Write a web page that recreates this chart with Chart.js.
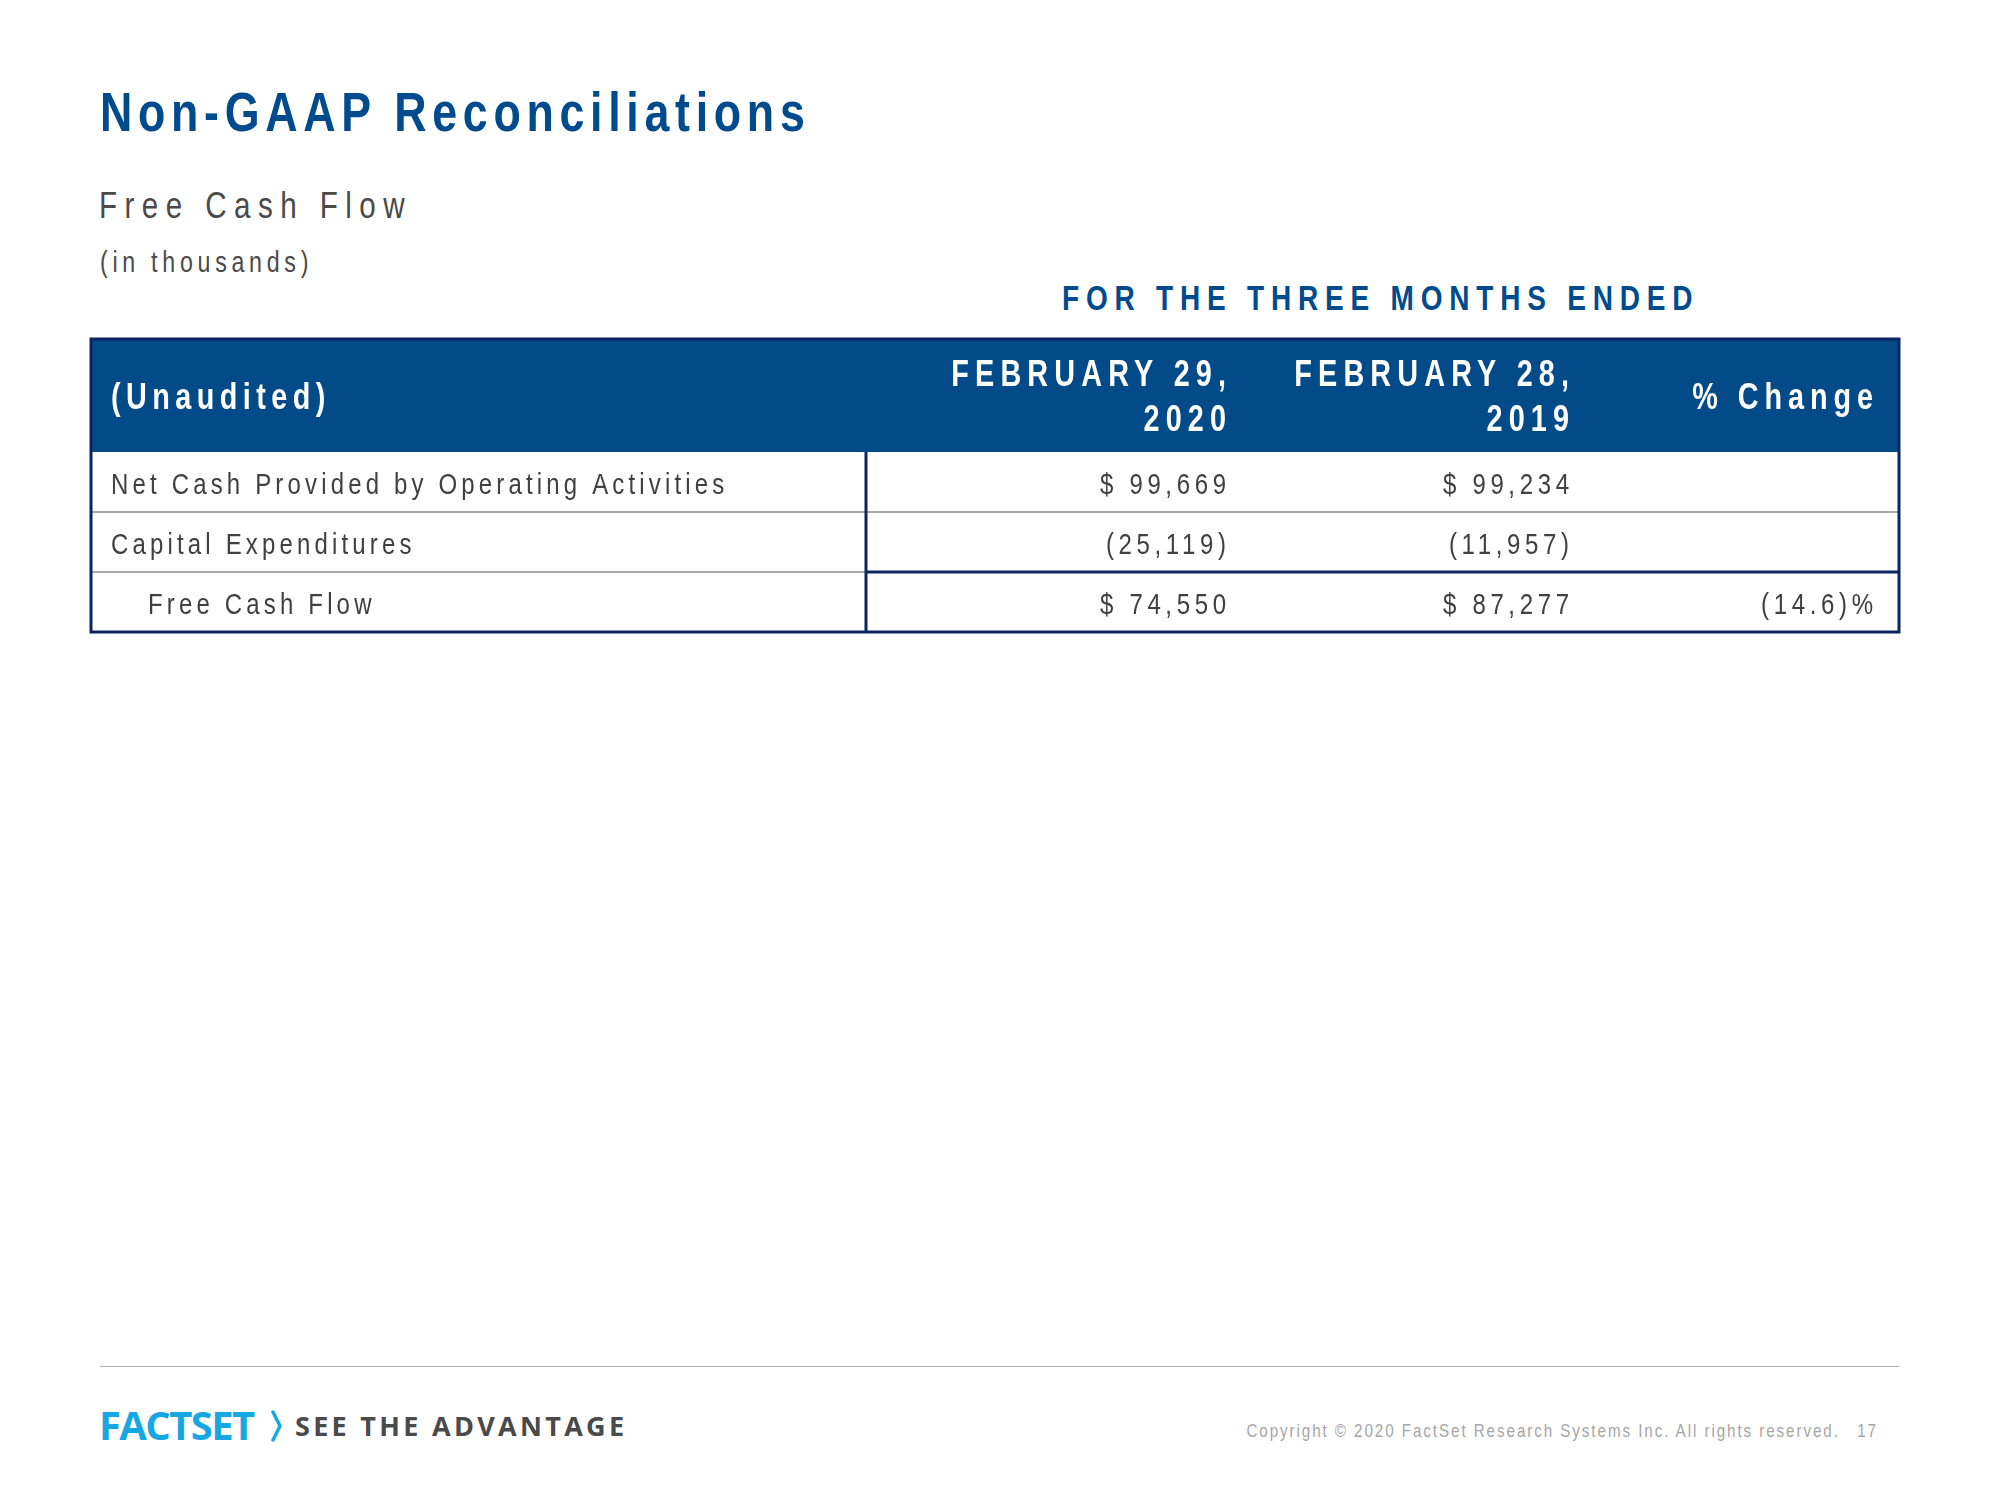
<!DOCTYPE html>
<html>
<head>
<meta charset="utf-8">
<script src="https://cdn.jsdelivr.net/npm/chart.js@4.4.1/dist/chart.umd.min.js"></script>
<style>
  body { margin: 0; width: 2000px; height: 1500px; background: #fff; position: relative; overflow: hidden; }
  .t { position: absolute; white-space: nowrap; line-height: 1; font-family: 'Liberation Sans', Arial, sans-serif; transform: scaleX(0.8); transform-origin: 0 0; }
  .r { transform-origin: 100% 0; }
  #title { left: 100px; top: 84px; font-size: 56px; font-weight: bold; color: #004b8d; letter-spacing: 7.1px; }
  #sub { left: 99px; top: 187px; font-size: 37px; color: #4a4a4a; letter-spacing: 9.3px; }
  #unit { left: 100px; top: 248px; font-size: 29px; color: #4a4a4a; letter-spacing: 5.9px; }
  #period { left: 1062px; top: 280px; font-size: 35px; font-weight: bold; color: #004b8d; letter-spacing: 8.5px; }
  #rule { position: absolute; left: 100px; top: 1366px; width: 1799px; height: 1px; background: #b0b0b0; }
  #logo { left: 99px; top: 1405px; font-family: 'Open Sans', sans-serif; font-size: 40px; font-weight: 700; color: #17a8e3; letter-spacing: -1.6px; transform: none; }
  #tag { left: 295px; top: 1412px; font-family: 'Open Sans', sans-serif; font-size: 27px; font-weight: 700; color: #4a4a4a; letter-spacing: 3.3px; transform: none; }
  #copy { right: 160px; top: 1421px; font-size: 19px; color: #a6a6a6; letter-spacing: 2.4px; }
  #page { right: 122px; top: 1421px; font-size: 19px; color: #a6a6a6; letter-spacing: 2.4px; }
  #chev { position: absolute; left: 270px; top: 1410px; }
</style>
</head>
<body>
<div class="t" id="title">Non-GAAP Reconciliations</div>
<div class="t" id="sub">Free Cash Flow</div>
<div class="t" id="unit">(in thousands)</div>
<div class="t" id="period"></div>
<canvas id="fcfTable" width="1814" height="299" style="position:absolute;left:88px;top:336px"></canvas>
<div id="rule"></div>
<div class="t" id="logo">FACTSET</div>
<svg id="chev" width="14" height="32" viewBox="0 0 14 32"><polyline points="3,2 10,16 3,30" fill="none" stroke="#17a8e3" stroke-width="3.5" stroke-linecap="round" stroke-linejoin="round"/></svg>
<div class="t" id="tag">SEE THE ADVANTAGE</div>
<div class="t r" id="copy">Copyright © 2020 FactSet Research Systems Inc. All rights reserved.</div>
<div class="t r" id="page">17</div>

<script>
// table data (in thousands)
var periodEnded = 'FOR THE THREE MONTHS ENDED';
var rowLabels = ['Net Cash Provided by Operating Activities', 'Capital Expenditures', 'Free Cash Flow'];
var headerLines = [['(Unaudited)'], ['FEBRUARY 29,', '2020'], ['FEBRUARY 28,', '2019'], ['% Change']];
var cashFlow2020 = [99669, -25119, 74550];
var cashFlow2019 = [99234, -11957, 87277];
var pctChange = [null, null, -14.6];

document.getElementById('period').textContent = periodEnded;

// layout of the table (px along the table width)
var TABLE_W = 1808;
var HEADER_H = 113;
var COL_SPLIT = 775;
var LABEL_X = 20;
var INDENT_X = 57;
var VALUE_RIGHT = [1135, 1478, 1782];
var HEAD_SPACING = [6.8, 7.7, 7.7, 7.4];
var SQUEEZE = 0.8; // narrow look of the slide font

var NAVY = '#0c2562';
var HEAD_BG = '#024a88';
var GRID = '#a8a8a8';
var TEXT = '#404040';
var FONT = "'Liberation Sans', Arial, sans-serif";

function money(v) {
    var s = Math.abs(v).toLocaleString('en-US');
    return v < 0 ? '(' + s + ')' : '$ ' + s;
}
function pct(v) {
    if (v === null) return '';
    return v < 0 ? '(' + Math.abs(v).toFixed(1) + ')%' : v.toFixed(1) + '%';
}

function txt(ctx, s, x, y, font, spacing, color, align) {
    ctx.save();
    ctx.font = font;
    ctx.letterSpacing = spacing + 'px';
    ctx.fillStyle = color;
    ctx.textAlign = align;
    ctx.textBaseline = 'alphabetic';
    ctx.translate(x, y);
    ctx.scale(SQUEEZE, 1);
    ctx.fillText(s, align === 'right' ? spacing : 0, 0);
    ctx.restore();
}

function line(ctx, x1, y1, x2, y2, color, w) {
    ctx.beginPath();
    ctx.strokeStyle = color;
    ctx.lineWidth = w;
    ctx.moveTo(x1, y1);
    ctx.lineTo(x2, y2);
    ctx.stroke();
}

var tableCells = {
    id: 'tableCells',
    afterDraw: function (chart) {
        var ctx = chart.ctx, a = chart.chartArea;
        var x = chart.scales.x, y = chart.scales.y;
        var n = rowLabels.length;
        var rowH = Math.abs(y.getPixelForValue(1) - y.getPixelForValue(0));
        var headTop = a.top - HEADER_H;
        var split = x.getPixelForValue(COL_SPLIT);
        ctx.save();

        // header band
        ctx.fillStyle = HEAD_BG;
        ctx.fillRect(a.left, headTop, a.right - a.left, HEADER_H);

        // row separators
        for (var i = 1; i < n; i++) {
            var yy = Math.round(y.getPixelForValue(i) - rowH / 2);
            var total = i === n - 1;
            line(ctx, a.left, yy, split, yy, GRID, 2);
            line(ctx, split, yy, a.right, yy, total ? NAVY : GRID, total ? 3 : 2);
        }
        // column divider and outer frame
        line(ctx, split, a.top, split, a.bottom, NAVY, 3);
        ctx.strokeStyle = NAVY;
        ctx.lineWidth = 3;
        ctx.strokeRect(a.left, headTop, a.right - a.left, a.bottom - headTop);

        // header text
        var hFont = 'bold 36px ' + FONT;
        var hMid = headTop + HEADER_H / 2 + 13;
        headerLines.forEach(function (lines, c) {
            lines.forEach(function (s, k) {
                var by = hMid + (k - (lines.length - 1) / 2) * 45;
                if (c === 0) txt(ctx, s, x.getPixelForValue(LABEL_X), by, hFont, HEAD_SPACING[c], '#fff', 'left');
                else txt(ctx, s, x.getPixelForValue(VALUE_RIGHT[c - 1]), by, hFont, HEAD_SPACING[c], '#fff', 'right');
            });
        });

        // body cells
        var bFont = '30px ' + FONT;
        var cols = [cashFlow2020.map(money), cashFlow2019.map(money), pctChange.map(pct)];
        rowLabels.forEach(function (label, r) {
            var by = y.getPixelForValue(r) + 12;
            var lx = x.getPixelForValue(r === n - 1 ? INDENT_X : LABEL_X);
            txt(ctx, label, lx, by, bFont, 5.2, TEXT, 'left');
            cols.forEach(function (col, c) {
                txt(ctx, col[r], x.getPixelForValue(VALUE_RIGHT[c]), by, bFont, 5.8, TEXT, 'right');
            });
        });
        ctx.restore();
    }
};

new Chart(document.getElementById('fcfTable'), {
    type: 'bar',
    data: {
        labels: rowLabels,
        datasets: [
            { label: headerLines[1].join(' '), data: cashFlow2020, hidden: true },
            { label: headerLines[2].join(' '), data: cashFlow2019, hidden: true },
            { label: headerLines[3].join(' '), data: pctChange, hidden: true }
        ]
    },
    options: {
        indexAxis: 'y',
        responsive: false,
        animation: false,
        devicePixelRatio: 1,
        events: [],
        layout: { padding: { top: HEADER_H + 3, left: 3, right: 3, bottom: 3 } },
        scales: {
            x: { type: 'linear', min: 0, max: TABLE_W, display: false },
            y: { type: 'category', offset: true, display: false }
        },
        plugins: { legend: { display: false }, tooltip: { enabled: false }, title: { display: false } }
    },
    plugins: [tableCells]
});
</script>
</body>
</html>
